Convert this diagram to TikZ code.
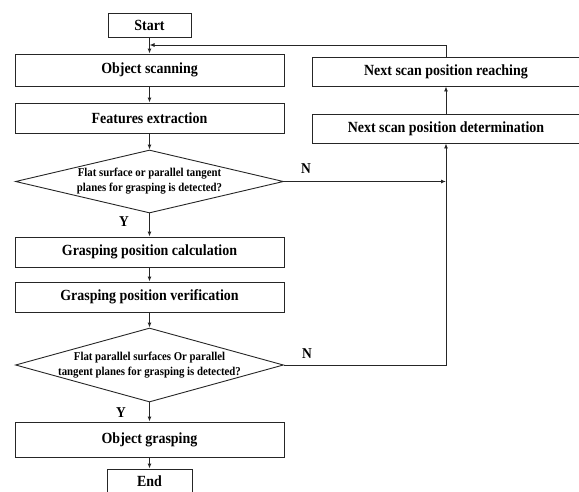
\documentclass[tikz,border=0pt]{standalone}
\usepackage{fontspec}
\setmainfont{Liberation Serif}[FakeStretch=0.9]
\usetikzlibrary{shapes.geometric,arrows.meta}
\tikzset{
  box/.style={draw=black!85,line width=0.9pt,rectangle,inner sep=0pt,
    font=\bfseries\fontsize{15.5}{18}\selectfont},
  dec/.style={draw=black!85,line width=0.9pt,diamond,inner sep=0pt,
    minimum width=268pt,minimum height=#1},
  dtext/.style={align=center,font=\bfseries\fontsize{12}{15}\selectfont},
  lab/.style={font=\bfseries\fontsize{15}{17}\selectfont,inner sep=0pt},
  conn/.style={line width=0.9pt,draw=black!85,-{Latex[length=5pt,width=4pt]}},
  plain/.style={line width=0.9pt,draw=black!85}
}
\begin{document}
\begin{tikzpicture}[x=1pt,y=-1pt]
\useasboundingbox (0,0) rectangle (579,491);
\node[box,minimum width=83pt,minimum height=24pt] (start) at (149.5,25) {Start};
\node[box,minimum width=269pt,minimum height=32pt] (scan) at (149.5,70) {Object scanning};
\node[box,minimum width=269pt,minimum height=30pt] (feat) at (149.5,118) {Features extraction};
\node[dec=63pt,label={[dtext]center:{Flat surface or parallel tangent\\planes for grasping is detected?}}] (d1) at (149.5,181.5) {};
\node[box,minimum width=269pt,minimum height=30pt] (calc) at (149.5,252) {Grasping position calculation};
\node[box,minimum width=269pt,minimum height=30pt] (verif) at (149.5,297) {Grasping position verification};
\node[dec=74pt,label={[dtext]center:{Flat parallel surfaces Or parallel\\tangent planes for grasping is detected?}}] (d2) at (149.5,365) {};
\node[box,minimum width=269pt,minimum height=35pt] (grasp) at (149.5,439.5) {Object grasping};
\node[box,minimum width=85pt,minimum height=25pt] (end) at (149.5,481.5) {End};
\node[box,minimum width=268pt,minimum height=29pt] (reach) at (446,71.5) {Next scan position reaching};
\node[box,minimum width=268pt,minimum height=29pt] (det) at (446,128.5) {Next scan position determination};
\coordinate (fb) at (149.5,45);
\coordinate (j1) at (446,181.5);
\coordinate (j2) at (446,365);
\node[lab] (y1) at (124,222) {Y};
\node[lab] (y2) at (121,413) {Y};
\node[lab] (n1) at (306,169) {N};
\node[lab] (n2) at (307,354) {N};
\draw[conn] (start) -- (scan);
\draw[conn] (scan) -- (feat);
\draw[conn] (feat) -- (d1);
\draw[conn] (d1) -- (calc);
\draw[conn] (calc) -- (verif);
\draw[conn] (verif) -- (d2);
\draw[conn] (d2) -- (grasp);
\draw[conn] (grasp) -- (end);
\draw[conn] (reach.north) |- (fb);
\draw[conn] (d1.east) -- (j1);
\draw[conn] (d2.east) -- (j2) -- (det.south);
\draw[conn] (det) -- (reach);
\end{tikzpicture}
\end{document}
